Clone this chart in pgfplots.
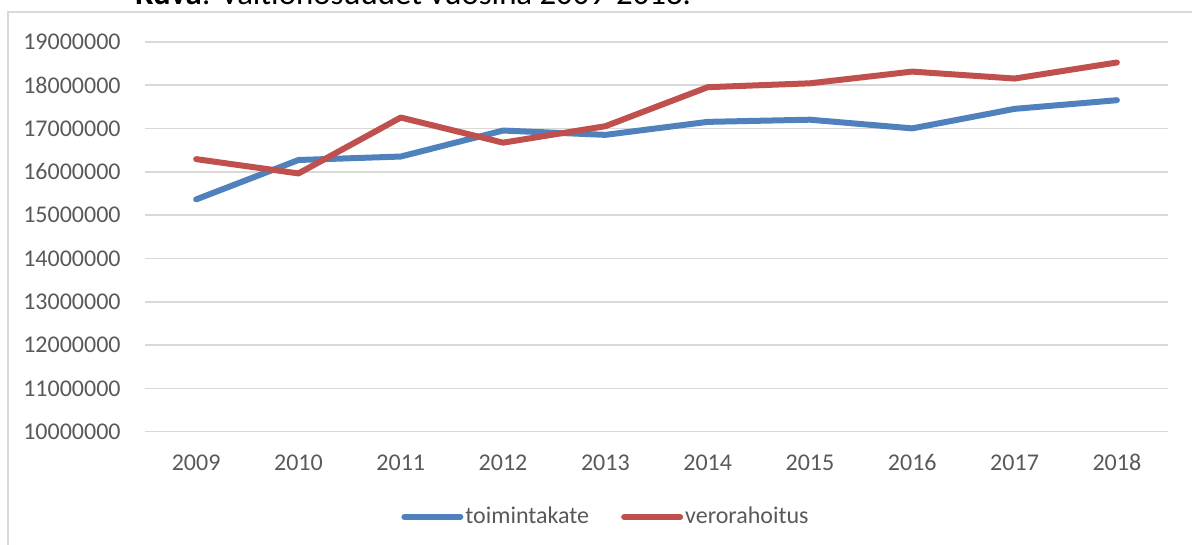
\documentclass[border=0pt]{standalone}
\usepackage{fontspec}
\setmainfont{Carlito}
\usepackage{pgfplots}
\pgfplotsset{compat=1.18}
\definecolor{xlblue}{HTML}{4F81BD}
\definecolor{xlred}{HTML}{C0504D}
\definecolor{xlgrid}{HTML}{D9D9D9}
\definecolor{xltext}{HTML}{595959}

\begin{document}
\begin{tikzpicture}
\useasboundingbox (0,0) rectangle (596pt,272.5pt);
% chart frame (only top and left edges are in view)
\draw[xlgrid, line width=0.8pt] (4pt,0pt) -- (4pt,266.5pt) -- (600pt,266.5pt);
% caption, cut off by the top edge
\node[anchor=base west, inner sep=0pt, font=\fontsize{16.4}{18}\selectfont]
  at (67.5pt,270pt) {\textbf{Kuva}: Valtionosuudet vuosina 2009-2018.};

\begin{axis}[
  at={(72.5pt,56.65pt)}, anchor=south west,
  scale only axis, width=511.5pt, height=195pt,
  xmin=-0.5, xmax=9.5,
  ymin=10000000, ymax=19000000,
  scaled y ticks=false,
  axis line style={draw=none},
  major tick length=0pt,
  xtick=data,
  xticklabels={2009,2010,2011,2012,2013,2014,2015,2016,2017,2018},
  ytick={10000000,11000000,12000000,13000000,14000000,15000000,16000000,17000000,18000000,19000000},
  yticklabels={10000000,11000000,12000000,13000000,14000000,15000000,16000000,17000000,18000000,19000000},
  ymajorgrids, grid style={xlgrid, line width=0.8pt},
  tick label style={font=\fontsize{12}{13}\selectfont, text=xltext, inner sep=0pt},
  yticklabel style={anchor=east, xshift=-12pt},
  xticklabel style={anchor=base, yshift=-19.5pt},
  legend columns=2,
  legend style={at={(0.4506,-0.2187)}, anchor=center, draw=none, fill=none,
    font=\fontsize{12}{13}\selectfont, text=xltext,
    /tikz/every even column/.append style={column sep=15pt},
    nodes={inner sep=1pt}},
  legend cell align=left,
  legend image code/.code={\draw[#1] (0pt,0pt) -- (28pt,0pt);},
]
\addplot[xlblue, line width=3pt, line cap=round, line join=round] coordinates {
  (0,15360000)(1,16270000)(2,16350000)(3,16950000)(4,16850000)
  (5,17150000)(6,17200000)(7,17000000)(8,17450000)(9,17650000)
};
\addplot[xlred, line width=3pt, line cap=round, line join=round] coordinates {
  (0,16290000)(1,15960000)(2,17250000)(3,16670000)(4,17050000)
  (5,17950000)(6,18040000)(7,18310000)(8,18150000)(9,18520000)
};
\legend{toimintakate, verorahoitus}
\end{axis}
\end{tikzpicture}
\end{document}
